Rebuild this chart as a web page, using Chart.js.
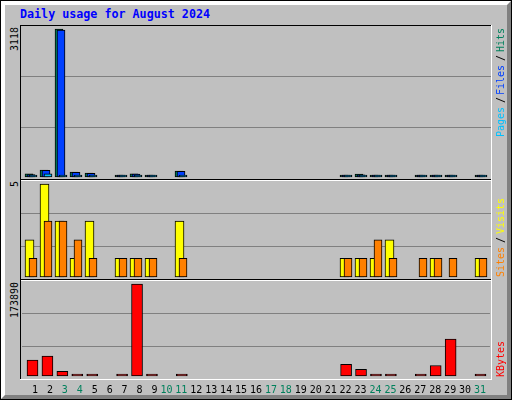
<!DOCTYPE html>
<html lang="en">
<head>
<meta charset="UTF-8">
<title>Daily usage for August 2024</title>
<script src="https://cdn.jsdelivr.net/npm/chart.js"></script>
<style>
  body { margin: 0; }
  #page { position: relative; width: 512px; height: 400px; background: #c0c0c0; overflow: hidden; }
  #outer { position: absolute; left: 0; top: 0; width: 512px; height: 400px; box-sizing: border-box; border: 1px solid #000; }
  #bevel { position: absolute; left: 1px; top: 1px; width: 510px; height: 398px; box-sizing: border-box; border: 4px solid; border-color: #fff #808080 #808080 #fff; }
  #title { position: absolute; left: 20px; top: 8px; font: bold 11.7px "DejaVu Sans Mono"; line-height: 13px; color: #0000ff; white-space: pre; }
  canvas { position: absolute; }
  .ln { position: absolute; }
  .up { position: absolute; transform-origin: 0 0; transform: rotate(-90deg); white-space: pre; font: 10px "DejaVu Sans Mono"; line-height: 13px; }
</style>
</head>
<body>
<div id="page">
  <div id="outer"></div>
  <div id="bevel"></div>
  <div id="title">Daily usage for August 2024</div>
  <canvas id="c1" width="470" height="153" style="left:21px; top:26px;"></canvas>
  <canvas id="c2" width="470" height="98" style="left:21px; top:181px;"></canvas>
  <canvas id="c3" width="470" height="119" style="left:21px; top:281px;"></canvas>
</div>

<script>
    const days = [1, 2, 3, 4, 5, 6, 7, 8, 9, 10, 11, 12, 13, 14, 15, 16, 17, 18, 19, 20, 21, 22, 23, 24, 25, 26, 27, 28, 29, 30, 31];
    const weekendDays = [3, 4, 10, 11, 17, 18, 24, 25, 31];

    const hits   = [68, 147, 3118, 105, 84, 0, 20, 68, 20, 0, 125, 0, 0, 0, 0, 0, 0, 0, 0, 0, 0, 18, 60, 15, 15, 0, 15, 15, 15, 0, 15];
    const files  = [52, 140, 3095, 100, 78, 0, 15, 60, 15, 0, 118, 0, 0, 0, 0, 0, 0, 0, 0, 0, 0, 12, 45, 10, 10, 0, 10, 10, 10, 0, 10];
    const pages  = [12, 65, 10, 10, 8, 0, 3, 6, 2, 0, 7, 0, 0, 0, 0, 0, 0, 0, 0, 0, 0, 2, 3, 2, 2, 0, 2, 2, 2, 0, 2];
    const visits = [2, 5, 3, 1, 3, 0, 1, 1, 1, 0, 3, 0, 0, 0, 0, 0, 0, 0, 0, 0, 0, 1, 1, 1, 2, 0, 0, 1, 0, 0, 1];
    const sites  = [1, 3, 3, 2, 1, 0, 1, 1, 1, 0, 1, 0, 0, 0, 0, 0, 0, 0, 0, 0, 0, 1, 1, 2, 1, 0, 1, 1, 1, 0, 1];
    const kbytes = [29870, 37480, 8940, 1100, 1000, 0, 3500, 173890, 900, 0, 1100, 0, 0, 0, 0, 0, 0, 0, 0, 0, 0, 22260, 12750, 800, 900, 0, 700, 19790, 69820, 0, 800];

    // layout: canvas x 21..490, one day = 15px, day d centred at 16 + 15d
    const X0 = 21, XW = 470;
    const page = document.getElementById('page');

    function line(x, y, w, h, color) {
        const d = document.createElement('div');
        d.className = 'ln';
        d.style.cssText = `left:${x}px;top:${y}px;width:${w}px;height:${h}px;background:${color}`;
        page.appendChild(d);
    }

    // sunken graph box: black top/left, white bottom/right, separators black over white
    line(20, 25, 472, 1, '#000');
    line(20, 25, 1, 355, '#000');
    line(20, 379, 472, 1, '#fff');
    line(491, 25, 1, 355, '#fff');
    [179, 279].forEach(y => line(21, y, 470, 1, '#000'));
    [180, 280].forEach(y => line(21, y, 470, 1, '#fff'));

    function up(text, color, x, yBottom) {
        const s = document.createElement('div');
        s.className = 'up';
        s.textContent = text;
        s.style.left = x + 'px';
        s.style.top = yBottom + 'px';
        s.style.color = color;
        page.appendChild(s);
    }

    // legends on the right
    up('Pages', '#00c0ff', 494, 137);
    up('/', '#000', 494, 103);
    up('Files', '#0040ff', 494, 95);
    up('/', '#000', 494, 61);
    up('Hits', '#00805c', 494, 52);
    up('Sites', '#ff8000', 494, 277);
    up('/', '#000', 494, 243);
    up('Visits', '#ffff00', 494, 234);
    up('KBytes', '#ff0000', 494, 377);

    // max values on the left
    [[Math.max(...hits), 27], [Math.max(...visits), 181], [Math.max(...kbytes), 282]].forEach(([v, yEnd]) => {
        const t = String(v);
        up(t, '#000', 8, yEnd + t.length * 6);
    });

    function bars(values, shift, width, color) {
        return {
            data: days.map((d, i) => ({ x: d + shift / 15, y: values[i] || null })),
            backgroundColor: color,
            borderColor: '#000',
            borderWidth: 1,
            borderSkipped: false,
            barThickness: width,
            minBarLength: 2,
            grouped: false
        };
    }

    function makeChart(id, p, max, datasets, showX) {
        const ppu = (p.base - p.peak) / max;
        const x = {
            type: 'linear',
            min: (X0 - 16) / 15,
            max: (X0 + XW - 16) / 15,
            offset: false,
            display: showX,
            grid: { display: false, drawTicks: false },
            border: { display: false },
            ticks: {
                autoSkip: false,
                maxRotation: 0,
                padding: 5,
                font: { family: 'DejaVu Sans Mono', size: 10 },
                color: ctx => weekendDays.includes(ctx.tick.value) ? '#00805c' : '#000',
                callback: v => String(v).padStart(2, ' ')
            },
            afterBuildTicks: s => { s.ticks = days.map(d => ({ value: d })); }
        };
        if (showX) x.afterFit = s => { s.height = 21; };

        return new Chart(document.getElementById(id), {
            type: 'bar',
            data: { datasets },
            options: {
                responsive: false,
                animation: false,
                layout: { padding: 0, autoPadding: false },
                plugins: { legend: { display: false }, tooltip: { enabled: false } },
                scales: {
                    x,
                    y: {
                        type: 'linear',
                        min: (p.base - p.height) / ppu,
                        max: p.base / ppu,
                        ticks: { display: false },
                        border: { display: false },
                        grid: { color: '#808080', lineWidth: 1, drawTicks: false },
                        afterBuildTicks: s => { s.ticks = p.grid.map(r => ({ value: (p.base - r - 0.5) / ppu })); }
                    }
                }
            }
        });
    }

    makeChart('c1', { height: 153, base: 151, peak: 3, grid: [50, 101] }, Math.max(...hits), [
        bars(pages, 2, 8, '#00c0ff'),
        bars(files, 0, 8, '#0040ff'),
        bars(hits, -2, 8, '#00805c')
    ], false);

    makeChart('c2', { height: 98, base: 96, peak: 3, grid: [32, 65] }, Math.max(...visits), [
        bars(sites, 2, 8, '#ff8000'),
        bars(visits, -1.5, 9, '#ffff00')
    ], false);

    makeChart('c3', { height: 98, base: 95, peak: 3, grid: [32, 65] }, Math.max(...kbytes), [
        bars(kbytes, 0.5, 11, '#ff0000')
    ], true);
</script>
</body>
</html>
